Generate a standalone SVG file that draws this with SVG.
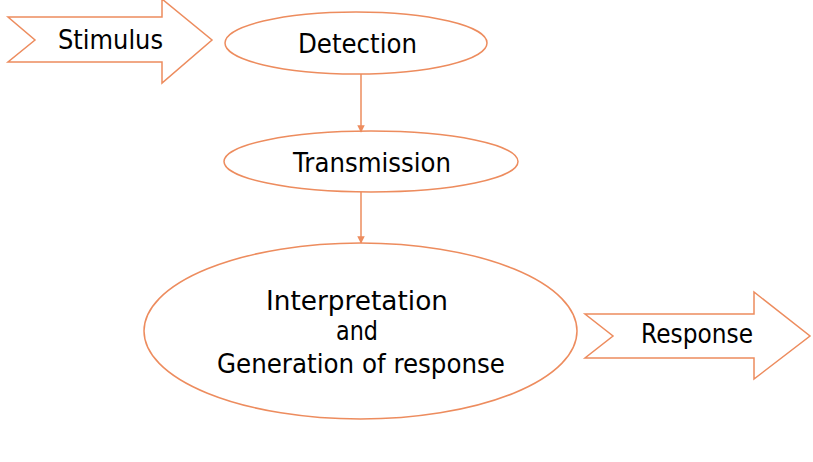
<svg xmlns="http://www.w3.org/2000/svg" width="813" height="462" viewBox="0 0 813 462">
<defs>
<style>
.shape{fill:#ffffff;stroke:#ED8C5E;stroke-width:1.5}
.conn{stroke:#ED8C5E;stroke-width:1.5;fill:none}
.lbl{font-family:"DejaVu Sans","Liberation Sans",sans-serif;font-size:26px;fill:#000000;text-anchor:middle}
</style>
<marker id="ah" viewBox="0 0 10 10" refX="9" refY="5" markerWidth="5" markerHeight="5" orient="auto">
<path d="M0,0 L10,5 L0,10 z" fill="#ED8C5E"/>
</marker>
</defs>
<rect width="813" height="462" fill="#ffffff"/>
<g id="stimulus">
<polygon class="shape" points="8,17 162,17 162,-1 212,40 162,83 162,62 8,62 35,40"/>
<text class="lbl" x="110.5" y="49" textLength="105" lengthAdjust="spacingAndGlyphs">Stimulus</text>
</g>
<g id="detection">
<ellipse class="shape" cx="356" cy="43" rx="131" ry="31"/>
<text class="lbl" x="357.5" y="53" textLength="119" lengthAdjust="spacingAndGlyphs">Detection</text>
</g>
<g id="transmission">
<ellipse class="shape" cx="371" cy="161.5" rx="147" ry="30.5"/>
<text class="lbl" x="372" y="172" textLength="158" lengthAdjust="spacingAndGlyphs">Transmission</text>
</g>
<g id="interpretation">
<ellipse class="shape" cx="360.5" cy="331" rx="216.5" ry="88"/>
<text class="lbl" x="357" y="310" textLength="182" lengthAdjust="spacingAndGlyphs">Interpretation</text>
<text class="lbl" x="357" y="340" textLength="42" lengthAdjust="spacingAndGlyphs">and</text>
<text class="lbl" x="361" y="373" textLength="288" lengthAdjust="spacingAndGlyphs">Generation of response</text>
</g>
<g id="response">
<polygon class="shape" points="585,314 754,314 754,292 810,336 754,379 754,358 585,358 613,336"/>
<text class="lbl" x="697" y="343" textLength="112" lengthAdjust="spacingAndGlyphs">Response</text>
</g>
<g id="connectors">
<line class="conn" x1="361" y1="74" x2="361" y2="132" marker-end="url(#ah)"/>
<line class="conn" x1="361" y1="192" x2="361" y2="243" marker-end="url(#ah)"/>
</g>
</svg>
